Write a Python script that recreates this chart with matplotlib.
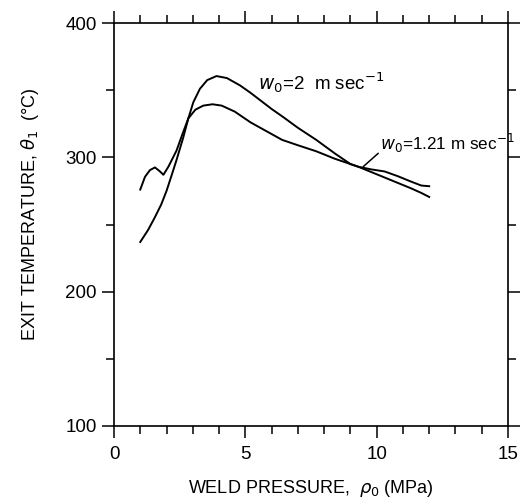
import matplotlib
matplotlib.use("Agg")
import matplotlib.pyplot as plt
from matplotlib.ticker import MultipleLocator

plt.rcParams['font.family'] = ['Liberation Sans', 'DejaVu Sans']
plt.rcParams['mathtext.fontset'] = 'dejavusans'

# w0 = 1.21 m/s curve (with small wiggle near 1.5 MPa)
p_121 = [1.0, 1.18, 1.37, 1.56, 1.75, 1.88, 2.07, 2.38, 2.6, 2.83, 3.1, 3.4, 3.75,
         4.1, 4.6, 5.2, 5.8, 6.4, 7.0, 7.7, 8.4, 9.0, 9.3, 9.8, 10.3, 10.8, 11.3,
         11.7, 12.0]
t_121 = [276, 285.5, 290.5, 292.5, 289.5, 287, 293, 305, 317, 329, 335.5, 338.5,
         339.5, 338.5, 334, 326, 319.5, 313, 309, 304.5, 299, 295, 293, 291, 289.5,
         286, 282, 279, 278.5]

# w0 = 2 m/s curve
p_2 = [1.0, 1.3, 1.56, 1.8, 2.0, 2.2, 2.38, 2.64, 2.83, 3.02, 3.27, 3.55, 3.9, 4.3,
       4.8, 5.2, 5.6, 6.0, 6.44, 7.0, 7.7, 8.4, 9.0, 9.3, 9.8, 10.3, 10.8, 11.3,
       11.7, 12.0]
t_2 = [237, 246, 255.5, 265, 275, 287, 298, 315, 329, 341, 351, 357.5, 360.5, 359,
       353.5, 348, 342, 336, 330, 322, 313, 303, 295, 293, 289, 285, 281, 277,
       273.5, 270.5]

label_2 = r'$w_0$=2  m sec$^{-1}$'
label_121 = r'$w_0$=1.21 m sec$^{-1}$'
xlabel = r'WELD PRESSURE,  $\rho_0$ (MPa)'
ylabel = r'EXIT TEMPERATURE, $\theta_1$  (°C)'

fig = plt.figure(figsize=(5.2, 5.04), dpi=100)
ax = fig.add_axes([114/520, 1-426/504, (508-114)/520, (426-23)/504])

ax.plot(p_121, t_121, color='black', lw=1.4)
ax.plot(p_2, t_2, color='black', lw=1.4)

ax.set_xlim(0, 15)
ax.set_ylim(100, 400)
ax.xaxis.set_major_locator(MultipleLocator(5))
ax.xaxis.set_minor_locator(MultipleLocator(1))
ax.yaxis.set_major_locator(MultipleLocator(100))
ax.yaxis.set_minor_locator(MultipleLocator(50))
ax.tick_params(which='both', direction='out', top=True, right=True, width=1.1,
               labelsize=13.5)
ax.tick_params(which='major', length=8.5)
ax.tick_params(which='minor', length=6)
ax.tick_params(axis='x', pad=6)
ax.tick_params(axis='y', pad=4)
for s in ax.spines.values():
    s.set_linewidth(1.2)

ax.set_xlabel(xlabel, fontsize=13)
ax.set_ylabel(ylabel, fontsize=13)
ax.xaxis.set_label_coords(0.5, -0.128)
ax.yaxis.set_label_coords(-0.185, 0.525)

ax.text(5.48, 350, label_2, fontsize=13.5, ha='left', va='baseline')
ax.text(10.13, 305.4, label_121, fontsize=12.3, ha='left', va='baseline')
ax.annotate('', xy=(9.49, 293.1), xytext=(10.06, 303.0),
            arrowprops=dict(arrowstyle='-', color='black', lw=1.1,
                            shrinkA=0, shrinkB=0))

fig.savefig('out.png', dpi=100)
